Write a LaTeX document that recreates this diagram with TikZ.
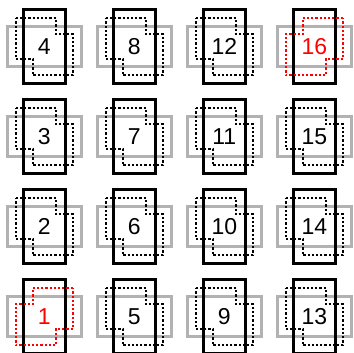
\documentclass[tikz,border=0pt]{standalone}
\usepackage{fontspec}
\setmainfont{Liberation Sans}
\usetikzlibrary{positioning}

\begin{document}
\begin{tikzpicture}[x=1pt, y=1pt,
    flap/.style={draw=black!30, line width=3pt},
    page/.style={draw=black, line width=3pt},
    outline/.style={line width=2.2pt, dash pattern=on 2.2pt off 2pt},
    num/.style={font=\fontsize{23}{23}\selectfont, inner sep=0pt}]
  \useasboundingbox (0,0) rectangle (354,353);
  % Outline corners: half size and step offsets
  \def\a{28.5}
  \def\b{11.5}
  \def\h{12.5}
  \foreach \c in {0,...,3}{
    \foreach \r in {0,...,3}{
      \pgfmathtruncatemacro{\n}{4*\c+\r+1}
      \ifnum\n=1
        \def\col{red}\def\fx{-1}
      \else\ifnum\n=16
        \def\col{red}\def\fx{-1}
      \else
        \def\col{black}\def\fx{1}
      \fi\fi
      \begin{scope}[shift={(44.3+90*\c,36.3+90*\r)}]
        % Gray landscape frame, black portrait frame
        \draw[flap] (-37.2,-20) rectangle (37.2,20);
        \draw[page] (-20.8,-36.7) rectangle (20.8,36.7);
        % Dotted stepped outline
        \begin{scope}[xscale=\fx]
          \draw[outline, draw=\col]
            (-\a,\a) -- (\b,\a) -- (\b,\h) -- (\a,\h) -- (\a,-\a)
            -- (-\b,-\a) -- (-\b,-\h) -- (-\a,-\h) -- cycle;
        \end{scope}
        \node[num, text=\col] (n\n) at (0,0) {\n};
      \end{scope}
    }
  }
\end{tikzpicture}
\end{document}
